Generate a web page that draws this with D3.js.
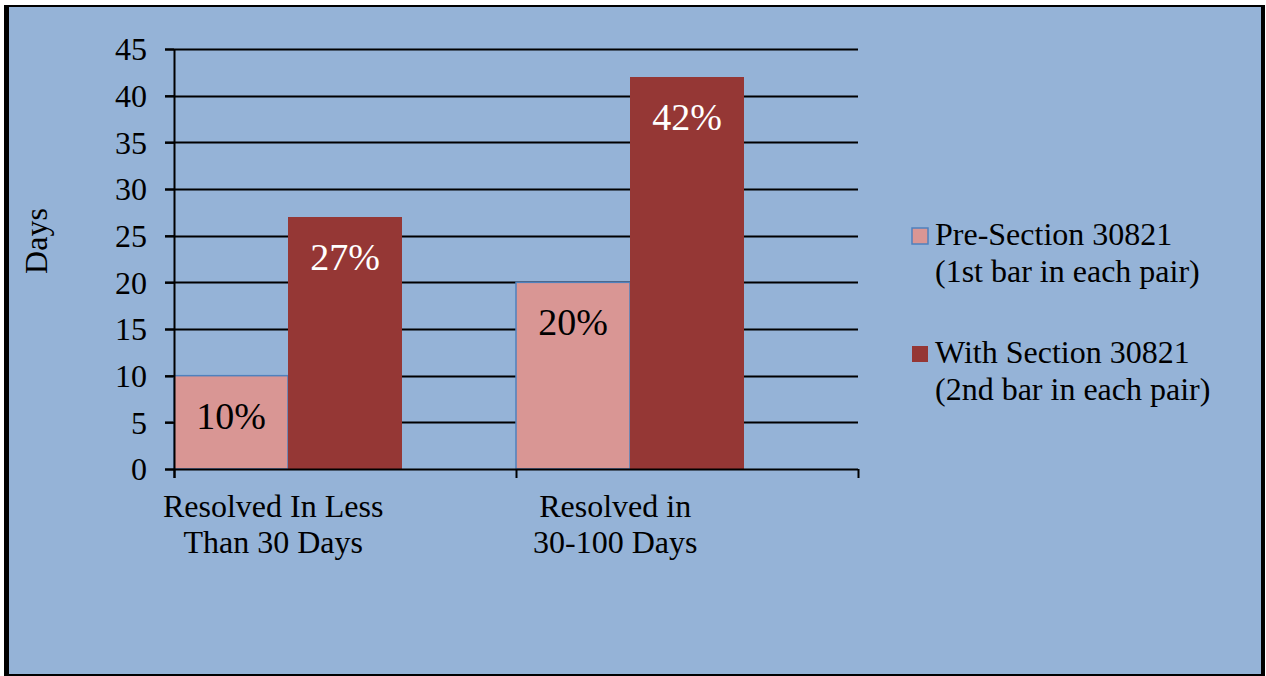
<!DOCTYPE html>
<html>
<head>
<meta charset="utf-8">
<script src="https://cdn.jsdelivr.net/npm/d3@7/dist/d3.min.js"></script>
<style>
  html, body { margin: 0; padding: 0; background: #ffffff; }
  svg { display: block; }
</style>
</head>
<body>
<svg id="chart" width="1266" height="676"></svg>
<script>
// Categories (two-line labels), series names and values in days
const categories = [["Resolved In Less", "Than 30 Days"], ["Resolved in", "30-100 Days"]];
const seriesNames = [["Pre-Section 30821", "(1st bar in each pair)"], ["With Section 30821", "(2nd bar in each pair)"]];
const preValues = [10, 20];
const withValues = [27, 42];
const preLabels = ["10%", "20%"];
const withLabels = ["27%", "42%"];
const yTicks = [0, 5, 10, 15, 20, 25, 30, 35, 40, 45];
const yTitle = "Days";

const colors = { pre: "#d99694", preStroke: "#4f81bd", with: "#953735", bg: "#95b3d7" };
const FONT = "'Liberation Serif', Tinos, 'Times New Roman', serif";

const svg = d3.select("#chart").attr("font-family", FONT);

// Frame with a heavier left edge
svg.append("rect").attr("x", 4).attr("y", 5).attr("width", 1261).attr("height", 671).attr("fill", "#000");
svg.append("rect").attr("x", 9).attr("y", 7).attr("width", 1252).attr("height", 667).attr("fill", colors.bg);

const plot = { left: 174, right: 858, top: 49, bottom: 469 };

const y = d3.scaleLinear().domain([0, 45]).range([plot.bottom, plot.top]);
const x0 = d3.scaleBand().domain(d3.range(categories.length)).range([plot.left, plot.right]).padding(0);
// three slots per category; the third stays empty
const x1 = d3.scaleBand().domain([0, 1, 2]).range([0, x0.bandwidth()]).padding(0);

const fontSize = 32;

function serif(sel, size) {
  return sel.style("font-family", FONT).style("font-size", size + "px");
}

// Gridlines
const grid = svg.append("g");
grid.selectAll("line").data(yTicks.filter(d => d > 0)).join("line")
  .attr("x1", plot.left - 9).attr("x2", plot.right)
  .attr("y1", d => Math.round(y(d)) + 0.5).attr("y2", d => Math.round(y(d)) + 0.5)
  .attr("stroke", "#000").attr("stroke-width", 2);

// Bars
const data = categories.map((c, i) => ({ i, pre: preValues[i], with: withValues[i], preLabel: preLabels[i], withLabel: withLabels[i] }));
const groups = svg.append("g").selectAll("g").data(data).join("g")
  .attr("transform", d => `translate(${x0(d.i)},0)`);

groups.append("rect")
  .attr("x", x1(0)).attr("width", x1.bandwidth())
  .attr("y", d => y(d.pre)).attr("height", d => y(0) - y(d.pre))
  .attr("fill", colors.pre).attr("stroke", colors.preStroke).attr("stroke-width", 1.5);

groups.append("rect")
  .attr("x", x1(1)).attr("width", x1.bandwidth())
  .attr("y", d => y(d.with)).attr("height", d => y(0) - y(d.with))
  .attr("fill", colors.with);

// Value labels inside bars
serif(groups.append("text"), 38)
  .attr("x", x1(0) + x1.bandwidth() / 2).attr("y", d => y(d.pre) + 53)
  .attr("text-anchor", "middle").attr("fill", "#000")
  .text(d => d.preLabel);
serif(groups.append("text"), 38)
  .attr("x", x1(1) + x1.bandwidth() / 2).attr("y", d => y(d.with) + 53)
  .attr("text-anchor", "middle").attr("fill", "#fff")
  .text(d => d.withLabel);

// Y axis
const yAxis = d3.axisLeft(y).tickValues(yTicks).tickSize(9).tickPadding(18);
const yg = svg.append("g").attr("transform", `translate(${plot.left},0)`).call(yAxis);
yg.attr("font-family", FONT);
yg.select(".domain").attr("stroke", "#000").attr("stroke-width", 2).attr("d", `M0.5,${plot.top}V${plot.bottom + 9}`);
yg.selectAll(".tick line").attr("stroke", "#000").attr("stroke-width", 2);
serif(yg.selectAll(".tick text"), fontSize).attr("fill", "#000").attr("dy", "0.34em");

// X axis line with category boundary ticks
const xg = svg.append("g");
xg.append("line").attr("x1", plot.left - 9).attr("x2", plot.right)
  .attr("y1", y(0) + 0.5).attr("y2", y(0) + 0.5).attr("stroke", "#000").attr("stroke-width", 2);
const bounds = d3.range(categories.length + 1).map(i => i < categories.length ? x0(i) : x0(i - 1) + x0.bandwidth());
xg.selectAll("line.tk").data(bounds).join("line").attr("class", "tk")
  .attr("x1", d => d + 0.5).attr("x2", d => d + 0.5)
  .attr("y1", y(0)).attr("y2", y(0) + 9).attr("stroke", "#000").attr("stroke-width", 2);

// Category labels
const catText = serif(svg.append("g").selectAll("text").data(categories).join("text"), fontSize)
  .attr("x", (d, i) => x0(i) + x0.bandwidth() * 0.29)
  .attr("y", y(0) + 48)
  .attr("text-anchor", "middle").attr("fill", "#000");
catText.selectAll("tspan").data(d => d).join("tspan")
  .attr("x", function () { return d3.select(this.parentNode).attr("x"); })
  .attr("dy", (d, i) => i === 0 ? 0 : 36)
  .text(d => d);

// Y axis title
serif(svg.append("text"), fontSize)
  .attr("transform", `translate(47,241) rotate(-90)`)
  .attr("text-anchor", "middle").attr("fill", "#000")
  .text(yTitle);

// Legend
const legend = svg.append("g");
const legendItems = [
  { name: seriesNames[0], fill: colors.pre, stroke: colors.preStroke, top: 228 },
  { name: seriesNames[1], fill: colors.with, stroke: null, top: 346 }
];
legendItems.forEach(it => {
  legend.append("rect").attr("x", 912).attr("y", it.top).attr("width", 16).attr("height", 16)
    .attr("fill", it.fill).attr("stroke", it.stroke).attr("stroke-width", it.stroke ? 1.5 : 0);
  const t = serif(legend.append("text"), fontSize).attr("x", 935).attr("y", it.top + 17).attr("fill", "#000");
  t.selectAll("tspan").data(it.name).join("tspan")
    .attr("x", 935).attr("dy", (d, i) => i === 0 ? 0 : 37).text(d => d);
});
</script>
</body>
</html>
